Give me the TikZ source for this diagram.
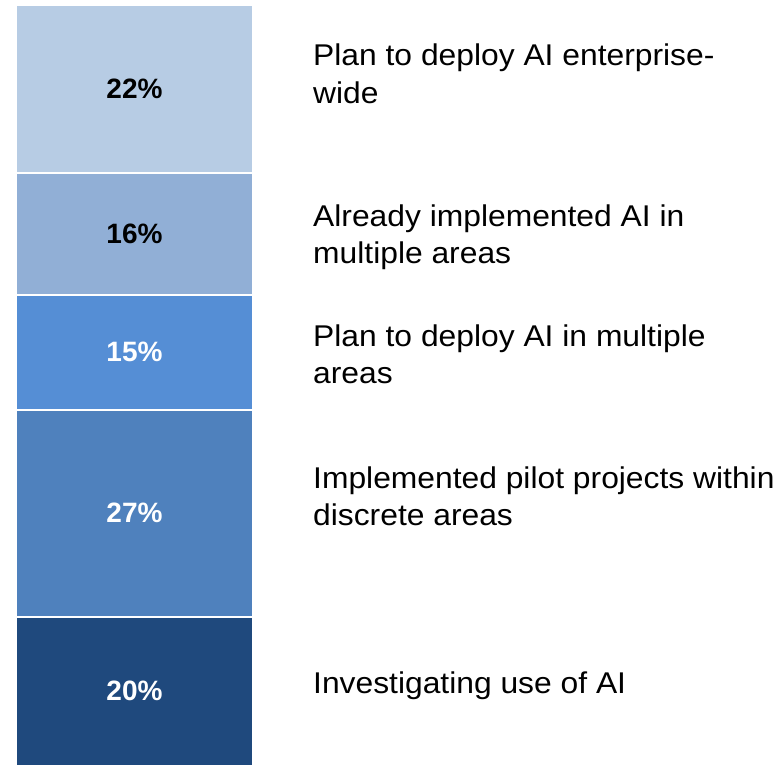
\documentclass[tikz,border=0pt]{standalone}
\usepackage{fontspec}
\setmainfont{Liberation Sans}
\newfontfamily\lblfont[FakeStretch=1.06]{Liberation Sans}
\definecolor{segA}{HTML}{B7CCE4}
\definecolor{segB}{HTML}{91AFD6}
\definecolor{segC}{HTML}{558ED5}
\definecolor{segD}{HTML}{4F81BD}
\definecolor{segE}{HTML}{1F497D}
\tikzset{
  pct/.style={font=\fontsize{28}{34}\selectfont\bfseries, inner sep=0pt},
  lbl/.style={font=\lblfont\fontsize{30}{37}\selectfont, align=left, anchor=base west, inner sep=0pt, text=black},
}
\begin{document}
\begin{tikzpicture}[x=1pt,y=-1pt]
\useasboundingbox (0,0) rectangle (781,765);
\fill[white] (0,0) rectangle (781,765);
% bar segments
\fill[segA] (17,6) rectangle (252,172);
\fill[segB] (17,174) rectangle (252,294);
\fill[segC] (17,296) rectangle (252,408.5);
\fill[segD] (17,410.5) rectangle (252,615.5);
\fill[segE] (17,617.5) rectangle (252,765);
% percentages
\node[pct, text=black] (pA) at (134.5,89) {22\%};
\node[pct, text=black] (pB) at (134.5,234) {16\%};
\node[pct, text=white] (pC) at (134.5,352) {15\%};
\node[pct, text=white] (pD) at (134.5,513) {27\%};
\node[pct, text=white] (pE) at (134.5,691) {20\%};
% labels (anchor = baseline of last line)
\node[lbl] (lA) at (313,103) {Plan to deploy AI enterprise-\\wide};
\node[lbl] (lB) at (313,263) {Already implemented AI in\\multiple areas};
\node[lbl] (lC) at (313,383) {Plan to deploy AI in multiple\\areas};
\node[lbl] (lD) at (313,525) {Implemented pilot projects within\\discrete areas};
\node[lbl] (lE) at (313,693) {Investigating use of AI};
\end{tikzpicture}
\end{document}
